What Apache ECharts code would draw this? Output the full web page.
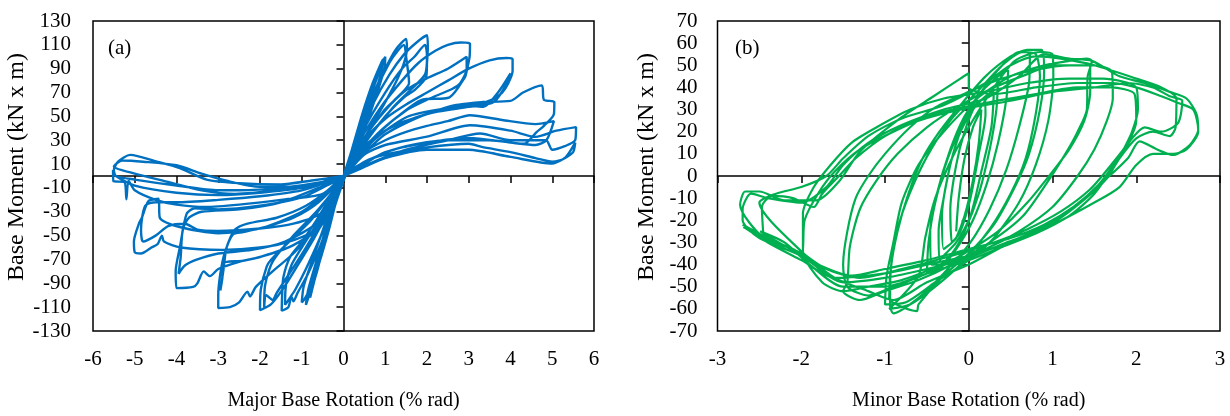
<!DOCTYPE html>
<html>
<head>
<meta charset="utf-8">
<script src="https://cdn.jsdelivr.net/npm/echarts@6/dist/echarts.min.js"></script>
<style>
  html, body { margin: 0; padding: 0; background: #fff; }
  #main { width: 1230px; height: 416px; }
</style>
</head>
<body>
<div id="main"></div>
<script>
// ---- panel (a): major axis, rotation (% rad) vs moment (kN x m) ----
var majorC1 = [[0,0],[0.2,22],[0.45,52],[0.7,78],[0.88,93],[0.95,98],[0.9,86],[0.65,58],[0.35,28],[0.05,2],[-0.15,-18],[-0.35,-45],[-0.6,-75],[-0.8,-95],[-0.95,-104],[-1.0,-106],[-0.95,-92],[-0.7,-66],[-0.4,-36],[-0.1,-8]];
var majorC2 = [[0.1,8],[0.35,38],[0.6,66],[0.85,90],[1.0,100],[0.98,90],[0.75,64],[0.45,34],[0.1,5],[-0.2,-22],[-0.45,-55],[-0.65,-82],[-0.82,-100],[-0.9,-108],[-0.85,-96],[-0.62,-68],[-0.32,-32],[0,-2]];
var majorC3 = [[0.25,25],[0.55,58],[0.8,82],[0.92,96],[0.88,84],[0.6,52],[0.3,22],[0,-4],[-0.25,-30],[-0.5,-62],[-0.7,-88],[-0.8,-102],[-0.75,-90],[-0.55,-62],[-0.3,-30],[0,0]];
var majorC4 = [[0.3,30],[0.7,68],[1.0,90],[1.25,106],[1.5,115],[1.52,107],[1.45,95],[1.3,82],[1.0,62],[0.6,38],[0.25,14],[0,-2],[-0.25,-28],[-0.55,-58],[-0.85,-82],[-1.1,-98],[-1.2,-105],[-1.25,-101],[-1.32,-110],[-1.48,-113],[-1.47,-100],[-1.44,-85],[-1.28,-68],[-1.04,-57],[-0.7,-40],[-0.35,-20],[0,0]];
var majorC5 = [[0.35,35],[0.75,70],[1.1,95],[1.3,105],[1.45,110],[1.5,100],[1.57,78],[1.35,68],[0.97,55],[0.4,27],[0,0],[-0.3,-30],[-0.6,-55],[-0.9,-78],[-1.15,-95],[-1.3,-103],[-1.4,-108],[-1.38,-92],[-1.25,-75],[-1.0,-60],[-0.6,-38],[-0.25,-15],[0,0]];
var majorC6 = [[0.3,28],[0.7,60],[1.1,85],[1.45,102],[1.75,112],[2.0,118],[2.02,108],[2.0,95],[1.98,83],[1.7,72],[1.45,66],[1.0,50],[0.4,22],[0,0],[-0.3,-25],[-0.7,-52],[-1.1,-75],[-1.4,-92],[-1.6,-102],[-1.75,-108],[-2.0,-112.6],[-1.98,-95],[-1.84,-76],[-1.73,-70],[-1.3,-55],[-0.8,-38],[-0.4,-20],[0,0]];
var majorC7 = [[0.5,40],[1.0,70],[1.4,90],[1.7,100],[1.95,110],[2.0,100],[1.95,85],[1.6,72],[1.2,58],[0.6,32],[0,0],[-0.4,-30],[-0.9,-60],[-1.3,-82],[-1.6,-98],[-1.7,-104],[-1.85,-100],[-1.9,-110],[-1.88,-92],[-1.7,-72],[-1.2,-50],[-0.6,-28],[0,0]];
var majorC8 = [[0.4,30],[0.9,58],[1.4,80],[1.8,95],[2.2,105],[2.5,110],[2.81,112],[3.03,111],[3.02,100],[2.95,88],[2.91,83],[2.54,66],[1.86,63.7],[1.3,50],[0.8,35],[0.3,15],[0,0],[-0.3,-22],[-0.7,-45],[-1.2,-65],[-1.7,-80],[-2.1,-93],[-2.24,-101],[-2.3,-97],[-2.5,-106],[-2.72,-110],[-3.0,-110.7],[-3.0,-100],[-2.95,-82],[-2.85,-65],[-2.65,-49],[-2.4,-47],[-1.8,-42],[-1.2,-35],[-0.6,-22],[0,0]];
var majorC9 = [[0.5,32],[1.0,55],[1.5,72],[2.0,82],[2.5,90],[2.95,100],[2.95,90],[2.8,78],[2.6,73],[2.0,64],[1.5,55],[0.9,38],[0.4,18],[0,0],[-0.56,-43],[-1.2,-58],[-1.8,-66],[-2.4,-71],[-2.89,-73],[-2.9,-85],[-2.95,-96],[-2.88,-80],[-2.8,-60],[-2.6,-45],[-2.3,-40],[-1.6,-35],[-0.9,-25],[-0.3,-10],[0,0]];
var majorC10 = [[0.5,30],[1.0,48],[1.5,60],[2.0,70],[2.5,80],[3.0,90],[3.5,97],[3.9,99],[4.05,98],[4.05,88],[3.95,78],[3.8,70],[3.56,64],[3.2,60],[2.5,57],[1.53,49.7],[0.72,30],[0.3,12],[0,0],[-0.5,-40],[-1.2,-58],[-2.0,-68],[-2.5,-72],[-3.0,-78],[-3.2,-84],[-3.35,-80],[-3.5,-90],[-3.6,-93],[-4.0,-94],[-4.02,-80],[-3.92,-60],[-3.76,-32],[-3.56,-27],[-3.0,-28],[-2.0,-25],[-1.0,-18],[-0.4,-8],[0,0]];
var majorC11 = [[0.5,25],[1.2,42],[2.0,52],[2.8,60],[3.35,58],[3.7,70],[4.0,86],[3.95,80],[3.6,62],[3.0,58],[2.0,52],[1.0,35],[0.3,12],[0,0],[-0.6,-38],[-1.4,-55],[-2.2,-62],[-3.0,-65],[-3.5,-70],[-3.8,-75],[-3.95,-82],[-3.9,-68],[-3.85,-45],[-3.7,-35],[-3.4,-30],[-2.5,-28],[-1.5,-22],[-0.6,-10],[0,0]];
var majorC12 = [[0.5,25],[1.0,38],[1.5,46],[2.0,52],[2.5,56],[2.8,60],[3.3,62],[4.0,63],[4.3,70],[4.75,76],[4.8,64],[5.05,62],[5.04,52],[4.8,42],[4.63,37],[4.32,27],[3.5,30],[2.5,30],[1.5,25],[0.7,15],[0,0],[-0.7,-45],[-1.3,-55],[-2.0,-60],[-2.9,-62],[-3.9,-60],[-4.3,-55],[-4.35,-50],[-4.45,-57],[-4.6,-60],[-4.85,-65],[-5.0,-64],[-5.02,-55],[-4.9,-40],[-4.83,-35],[-4.67,-21],[-4.43,-19],[-4.4,-35],[-3.9,-43],[-3.0,-48],[-2.0,-44],[-1.0,-30],[-0.4,-14],[0,0]];
var majorC13 = [[0.5,20],[1.0,30],[1.5,37],[2.0,42],[2.5,46],[3.03,51],[3.8,47],[4.6,43.5],[5.04,46],[4.86,30],[4.6,26],[4.0,28],[3.0,32],[2.0,28],[1.0,20],[0.4,8],[0,0],[-0.5,-30],[-1.2,-40],[-2.0,-44],[-3.0,-46],[-3.5,-45],[-3.8,-40],[-4.2,-42],[-4.5,-50],[-4.8,-55],[-4.85,-45],[-4.75,-25],[-4.5,-22],[-4.0,-22],[-3.0,-20],[-2.0,-17],[-1.0,-12],[-0.3,-4],[0,0]];
var majorC14 = [[0.5,18],[1.0,26],[2.0,33],[3.03,42.6],[4.0,38],[4.6,32.8],[5.1,38],[5.57,41],[5.55,30],[5.3,25],[5.0,22],[4.85,30],[4.0,30],[3.27,35.6],[2.5,30],[1.5,22],[0.6,10],[0,0],[-0.5,-15],[-1.5,-20],[-2.5,-24],[-3.3,-26],[-4.0,-24],[-4.5,-20],[-5.0,-12],[-5.15,-4],[-5.2,-19.6],[-5.25,-5],[-5.51,-4.4],[-5.52,5],[-5.45,0],[-5.0,-8],[-4.0,-14],[-3.0,-16],[-2.0,-14],[-1.0,-10],[-0.4,-4],[0,0]];
var majorC15 = [[0.5,12],[1.0,18],[2.0,24],[3.0,27],[3.31,24.4],[4.0,20],[4.6,15],[5.0,12],[5.3,15],[5.55,28],[5.5,20],[5.3,15],[5.0,10.4],[4.0,16],[3.0,22],[2.0,22],[1.0,15],[0.4,6],[0,0],[-0.5,-5],[-1.5,-10],[-2.5,-12],[-3.0,-12],[-4.0,-8],[-5.0,-3],[-5.45,0],[-5.5,5],[-5.4,12],[-5.11,17.7],[-4.47,12.1],[-3.92,6.6],[-3.28,-3],[-2.5,-6],[-1.5,-7],[-0.8,-4],[0,0]];
var majorC16 = [[-0.6,-6],[-1.6,-12],[-2.6,-15],[-3.4,-12],[-4.2,-5],[-5.0,2],[-5.5,8],[-5.3,13],[-4.8,12],[-4.0,9],[-3.4,2],[-2.8,-4],[-2.0,-9],[-1.2,-9],[-0.5,-5],[0,0]];

// ---- panel (b): minor axis ----
var minorL1 = [[-0.15,-25],[-0.12,-10],[-0.05,8],[0.05,22],[0.15,30],[0.12,15],[0.05,-2],[-0.05,-18],[-0.15,-28]];
var minorL1b = [[-0.2,-30],[-0.22,-15],[-0.15,5],[-0.05,20],[0.08,32],[0.18,35],[0.2,28],[0.12,10],[0.02,-10],[-0.1,-25],[-0.2,-30]];
var minorL2 = [[-0.3,-33],[-0.32,-18],[-0.25,0],[-0.12,18],[0.05,30],[0.2,36],[0.3,38],[0.27,22],[0.15,2],[0.02,-18],[-0.15,-30],[-0.3,-36]];
var minorL2b = [[-0.35,-38],[-0.36,-25],[-0.3,-10],[-0.2,8],[-0.05,25],[0.1,35],[0.25,42],[0.35,44],[0.33,30],[0.25,12],[0.12,-8],[-0.05,-25],[-0.2,-35],[-0.35,-40]];
var minorL3 = [[-0.45,-40],[-0.46,-25],[-0.38,-8],[-0.22,12],[-0.05,27],[0.15,38],[0.35,45],[0.47,48],[0.45,35],[0.35,15],[0.22,-3],[0.05,-20],[-0.15,-33],[-0.35,-42],[-0.5,-44]];
var minorL4 = [[-0.48,-30],[-0.4,-12],[-0.25,8],[-0.05,25],[0.15,38],[0.4,50],[0.6,56],[0.73,55],[0.72,42],[0.6,22],[0.45,3],[0.25,-15],[0.02,-30],[-0.3,-44],[-0.6,-55],[-0.9,-62]];
var minorL5 = [[-0.94,-58],[-0.93,-42],[-0.85,-25],[-0.72,-8],[-0.55,8],[-0.35,20],[-0.1,32],[0.2,45],[0.5,54],[0.7,57],[0.87,57],[0.9,47],[0.85,30],[0.72,10],[0.55,-5],[0.3,-22],[0,-35],[-0.3,-45],[-0.6,-58],[-0.62,-61]];
var minorL5b = [[-0.95,-55],[-0.92,-38],[-0.82,-20],[-0.65,-3],[-0.45,12],[-0.2,26],[0.1,38],[0.4,50],[0.65,56],[0.8,55],[0.85,45],[0.8,28],[0.68,8],[0.5,-8],[0.25,-24],[-0.05,-38],[-0.4,-50],[-0.7,-58],[-0.95,-60]];
var minorL6 = [[-0.6,-45],[-0.52,-28],[-0.4,-10],[-0.2,8],[0,22],[0.3,40],[0.55,52],[0.85,56],[1.0,55],[1.01,45],[0.95,25],[0.8,5],[0.6,-12],[0.3,-28],[0,-38],[-0.4,-48],[-0.75,-57],[-1.0,-58]];
var minorL7 = [[-0.98,-45],[-0.9,-30],[-0.8,-12],[-0.6,5],[-0.3,20],[0.1,35],[0.5,45],[0.9,50],[1.2,52],[1.41,53],[1.47,52],[1.42,45],[1.41,30],[1.3,20],[1.17,11],[0.97,-1],[0.65,-18],[0.25,-30],[-0.2,-40],[-0.6,-47],[-1.0,-52],[-1.3,-56],[-1.5,-52]];
var minorL7b = [[-1.45,-48],[-1.42,-32],[-1.3,-15],[-1.1,-2],[-0.85,10],[-0.5,22],[-0.1,32],[0.3,40],[0.7,46],[1.0,50],[1.3,50],[1.45,50],[1.45,38],[1.38,25],[1.2,12],[1.0,2],[0.7,-12],[0.35,-25],[-0.1,-36],[-0.5,-44],[-0.9,-50],[-1.2,-54],[-1.45,-50]];
var minorL8 = [[-1.5,-40],[-1.45,-25],[-1.35,-10],[-1.2,0],[-1.0,10],[-0.7,22],[-0.4,31],[0,38],[0.4,44],[0.8,48],[1.2,50],[1.5,50],[1.71,47],[1.72,35],[1.65,25],[1.5,12],[1.3,0],[1.0,-14],[0.6,-25],[0.2,-33],[-0.3,-40],[-0.8,-47],[-1.2,-50],[-1.5,-52],[-1.75,-48],[-1.98,-34]];
var minorL9 = [[-1.98,-17],[-1.85,-5],[-1.65,5],[-1.4,15],[-1.1,22],[-0.7,30],[-0.3,35],[0.2,38],[0.7,42],[1.2,44],[1.6,44],[2.0,40],[2.02,30],[1.95,20],[1.85,12],[1.77,6.6],[1.5,-8],[1.2,-18],[0.8,-26],[0.4,-32],[0,-38],[-0.5,-44],[-1.0,-50],[-1.5,-50],[-1.9,-40],[-2.2,-30],[-2.49,-25]];
var minorL9b = [[-2.0,-35],[-1.96,-20],[-1.8,-8],[-1.6,2],[-1.3,12],[-0.9,20],[-0.4,28],[0.2,33],[0.8,37],[1.3,40],[1.7,40],[1.98,37],[2.0,25],[1.9,15],[1.7,5],[1.45,-6],[1.1,-16],[0.7,-24],[0.3,-30],[-0.2,-36],[-0.8,-42],[-1.3,-46],[-1.7,-42],[-2.0,-34]];
var minorL10 = [[-2.5,-12],[-2.3,-8],[-2.0,-5],[-1.7,0],[-1.5,8],[-1.2,18],[-0.8,26],[-0.3,32],[0.2,42],[0.5,50],[0.8,54],[1.1,53],[1.5,50],[2.0,44],[2.3,40],[2.48,35],[2.47,22],[2.4,18],[2.2,20],[2.0,17],[1.8,8],[1.65,-1],[1.4,-10],[1.05,-20],[0.6,-28],[0.1,-35],[-0.5,-40],[-1.0,-44],[-1.6,-46],[-2.0,-38],[-2.4,-30],[-2.69,-23]];
var minorL10b = [[-2.45,-28],[-2.47,-14],[-2.35,-9],[-2.1,-10],[-1.85,-14],[-1.75,-8],[-1.55,0],[-1.35,8],[-1.0,18],[-0.6,25],[-0.1,30],[0.5,34],[1.0,38],[1.5,40],[1.9,42],[2.2,40],[2.4,36],[2.55,34],[2.5,24],[2.3,20],[2.1,22],[1.95,17],[1.75,6],[1.55,-4],[1.25,-14],[0.9,-22],[0.5,-28],[0,-33],[-0.5,-38],[-1.0,-42],[-1.4,-45],[-1.8,-40],[-2.1,-33],[-2.45,-28]];
var minorL11 = [[-2.73,-13],[-2.67,-7],[-2.5,-7],[-2.2,-11],[-1.82,-11],[-1.54,-2],[-1.3,11],[-0.82,26],[-0.42,36],[-0.1,44],[0,46.4],[0.0,40],[0.3,37],[0.8,40],[1.3,42],[1.7,42],[2.0,40],[2.3,36],[2.5,33],[2.68,30],[2.74,21],[2.64,14],[2.44,9.5],[2.25,12],[2.04,15.6],[1.9,8],[1.65,-1],[1.25,-14],[0.85,-24.6],[0.45,-30],[0,-37],[-0.5,-42],[-1.0,-46],[-1.5,-48],[-2.0,-36],[-2.5,-28],[-2.7,-20]];
var minorL12 = [[-2.7,-15],[-2.6,-8],[-2.4,-10],[-2.0,-12],[-1.7,-5],[-1.5,5],[-1.2,15],[-0.8,23],[-0.3,30],[0.2,35],[0.6,45],[0.9,55],[1.2,53],[1.47,52],[1.8,45],[2.1,42],[2.4,38],[2.6,35],[2.72,28],[2.74,20],[2.6,12],[2.44,10],[2.2,10],[2.0,5],[1.8,-5],[1.5,-12],[1.0,-22],[0.5,-30],[0,-40],[-0.5,-48],[-0.9,-56],[-1.2,-52],[-1.6,-46],[-2.0,-35],[-2.4,-28],[-2.7,-22]];

var majorPath = [].concat(majorC1, majorC2, majorC3, majorC4, majorC5, majorC6, majorC7, majorC8,
    majorC9, majorC10, majorC11, majorC12, majorC13, majorC14, majorC15, majorC16);
var minorPath = [].concat(minorL1, minorL1b, minorL2, minorL2b, minorL3, minorL4, minorL5, minorL5b,
    minorL6, minorL7, minorL7b, minorL8, minorL9, minorL9b, minorL10, minorL10b, minorL11, minorL12);

var serif = 'Liberation Serif';
var black = '#000';

function labelAxis(grid, min, max, step, name, gap, margin, isX) {
    return {
        type: 'value', gridIndex: grid, min: min, max: max, interval: step,
        name: name, nameLocation: 'middle', nameGap: gap,
        nameRotate: isX ? 0 : 90,
        nameTextStyle: {
            fontFamily: serif, fontSize: isX ? 20 : 24, color: black,
            padding: isX ? 0 : [0, 0, 0, 18]   // nudge the rotated title a bit upward
        },
        axisLine: { show: false, onZero: false },
        axisTick: { show: false },
        splitLine: { show: false },
        axisLabel: { fontFamily: serif, fontSize: 21, color: black, margin: margin }
    };
}
function zeroAxis(grid, min, max, step, other, isX) {
    return {
        type: 'value', gridIndex: grid, min: min, max: max, interval: step,
        position: isX ? 'bottom' : 'left',
        axisLine: { show: true, onZero: true, onZeroAxisIndex: other, lineStyle: { color: black, width: 1.5 } },
        axisTick: { show: true, length: 7, lineStyle: { color: black, width: 1.5 } },
        axisLabel: { show: false },
        splitLine: { show: false }
    };
}

var myChart = echarts.init(document.getElementById('main'));
myChart.setOption({
    animation: false,
    backgroundColor: '#fff',
    grid: [
        { left: 93, top: 21, width: 501, height: 314, show: true, borderColor: black, borderWidth: 1.5, backgroundColor: 'transparent' },
        { left: 717.5, top: 21, width: 502.5, height: 314, show: true, borderColor: black, borderWidth: 1.5, backgroundColor: 'transparent' }
    ],
    xAxis: [
        labelAxis(0, -6, 6, 1, 'Major Base Rotation (% rad)', 60, 18, true),
        zeroAxis(0, -6, 6, 1, 0, true),
        labelAxis(1, -3, 3, 1, 'Minor Base Rotation (% rad)', 60, 18, true),
        zeroAxis(1, -3, 3, 1, 2, true)
    ],
    yAxis: [
        labelAxis(0, -130, 130, 20, 'Base Moment (kN x m)', 61, 22, false),
        zeroAxis(0, -130, 130, 20, 0, false),
        labelAxis(1, -70, 70, 10, 'Base Moment (kN x m)', 59, 20, false),
        zeroAxis(1, -70, 70, 10, 2, false)
    ],
    graphic: [
        { type: 'text', left: 108, top: 38, style: { text: '(a)', font: '21px "Liberation Serif"', fill: black } },
        { type: 'text', left: 735, top: 38, style: { text: '(b)', font: '21px "Liberation Serif"', fill: black } }
    ],
    series: [
        {
            name: 'major', type: 'line', xAxisIndex: 0, yAxisIndex: 0,
            data: majorPath, showSymbol: false, smooth: 0.25,
            lineStyle: { color: '#0070C0', width: 2.4 }
        },
        {
            name: 'minor', type: 'line', xAxisIndex: 2, yAxisIndex: 2,
            data: minorPath, showSymbol: false, smooth: 0.25,
            lineStyle: { color: '#00B050', width: 2.2 }
        }
    ]
});
</script>
</body>
</html>
